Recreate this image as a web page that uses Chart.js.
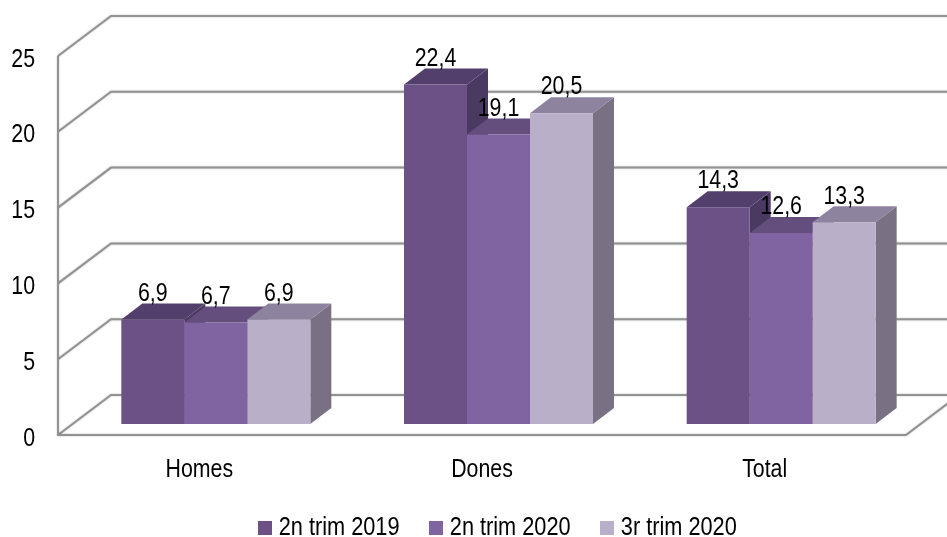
<!DOCTYPE html>
<html>
<head>
<meta charset="utf-8">
<style>
  html, body { margin: 0; padding: 0; background: #fff; overflow: hidden; }
  canvas { display: block; }
</style>
<script src="https://cdn.jsdelivr.net/npm/chart.js@4"></script>
</head>
<body>
<canvas id="chart" width="947" height="537"></canvas>
<script>
  const categories = ['Homes', 'Dones', 'Total'];
  const seriesNames = ['2n trim 2019', '2n trim 2020', '3r trim 2020'];
  const trim2n2019 = [6.9, 22.4, 14.3];
  const trim2n2020 = [6.7, 19.1, 12.6];
  const trim3r2020 = [6.9, 20.5, 13.3];
  const yTicks = [0, 5, 10, 15, 20, 25];

  const frontColors = ['#6b5186', '#8064a2', '#b9afc9'];
  const topColors = ['#533f6c', '#634e7e', '#8e839e'];
  const sideColors = ['#4a3960', '#5a4773', '#7a7084'];

  const FONT = '"Liberation Sans", Arial, sans-serif';
  const TEXT_SQUEEZE = 0.82;               // the original text is condensed
  const WALL = { dx: 53, dy: -40 };        // back wall relative to the front plane
  const BAR_SHIFT = { dx: 16.5, dy: -11 }; // bars stand inside the floor
  const BAR_DEPTH = { dx: 21, dy: -16 };

  // small square drawn as a legend marker, so the gap to the text stays tight
  function swatch(color) {
    const c = document.createElement('canvas');
    c.width = c.height = 14;
    const g = c.getContext('2d');
    g.fillStyle = color;
    g.fillRect(0, 0, 14, 14);
    return c;
  }

  function poly(ctx, color, pts) {
    ctx.fillStyle = color;
    ctx.beginPath();
    pts.forEach((p, i) => i ? ctx.lineTo(p[0], p[1]) : ctx.moveTo(p[0], p[1]));
    ctx.closePath();
    ctx.fill();
  }

  const ctx2d = document.getElementById('chart').getContext('2d');
  const plainFillText = ctx2d.fillText.bind(ctx2d);
  ctx2d.fillText = (text, x, y) => {
    ctx2d.save();
    ctx2d.translate(x, y);
    ctx2d.scale(TEXT_SQUEEZE, 1);
    plainFillText(text, 0, 0);
    ctx2d.restore();
  };

  const box3d = {
    id: 'box3d',
    afterLayout(chart) {
      // legend sits off-centre in the original
      const lg = chart.legend;
      lg.left = 255;
      lg.right = chart.width;
      lg.top = 505.25;
      lg.bottom = chart.height;
    },
    beforeDatasetsDraw(chart) {
      const { ctx, chartArea: a, scales: { y } } = chart;
      ctx.save();
      // walls and floor
      ctx.strokeStyle = '#929292';
      ctx.lineWidth = 2;
      ctx.shadowColor = 'rgba(0,0,0,0.25)';
      ctx.shadowBlur = 2;
      yTicks.forEach(t => {
        const py = y.getPixelForValue(t);
        ctx.beginPath();
        ctx.moveTo(a.left, py);
        ctx.lineTo(a.left + WALL.dx, py + WALL.dy);
        ctx.lineTo(chart.width + 2, py + WALL.dy);
        ctx.stroke();
      });
      ctx.beginPath();
      ctx.moveTo(a.left, y.getPixelForValue(yTicks[yTicks.length - 1]));
      ctx.lineTo(a.left, a.bottom);
      ctx.lineTo(a.right, a.bottom);
      ctx.lineTo(a.right + WALL.dx, a.bottom + WALL.dy);
      ctx.stroke();
      ctx.shadowColor = 'transparent';
      // side and top faces, the front faces come from the bar elements
      ctx.translate(BAR_SHIFT.dx, BAR_SHIFT.dy);
      const d = BAR_DEPTH;
      categories.forEach((_, i) => {
        chart.data.datasets.forEach((ds, k) => {
          const el = chart.getDatasetMeta(k).data[i];
          const l = el.x - el.width / 2, r = el.x + el.width / 2;
          poly(ctx, sideColors[k], [[r, el.y], [r + d.dx, el.y + d.dy], [r + d.dx, el.base + d.dy], [r, el.base]]);
          poly(ctx, topColors[k], [[l, el.y], [l + d.dx, el.y + d.dy], [r + d.dx, el.y + d.dy], [r, el.y]]);
        });
      });
      ctx.restore();
    },
    beforeDatasetDraw(chart) {
      chart.ctx.save();
      chart.ctx.translate(BAR_SHIFT.dx, BAR_SHIFT.dy);
    },
    afterDatasetDraw(chart) {
      chart.ctx.restore();
    },
    afterDatasetsDraw(chart) {
      const { ctx } = chart;
      ctx.save();
      ctx.font = '26px ' + FONT;
      ctx.fillStyle = '#000';
      ctx.textAlign = 'center';
      ctx.textBaseline = 'middle';
      chart.data.datasets.forEach((ds, k) => {
        chart.getDatasetMeta(k).data.forEach((el, i) => {
          const txt = String(ds.data[i]).replace('.', ',');
          ctx.fillText(txt, el.x + BAR_SHIFT.dx, el.y + BAR_SHIFT.dy - 26);
        });
      });
      ctx.restore();
    }
  };

  new Chart(ctx2d, {
    type: 'bar',
    data: {
      labels: categories,
      datasets: [
        { label: seriesNames[0], data: trim2n2019, backgroundColor: frontColors[0] },
        { label: seriesNames[1], data: trim2n2020, backgroundColor: frontColors[1] },
        { label: seriesNames[2], data: trim3r2020, backgroundColor: frontColors[2] }
      ]
    },
    plugins: [box3d],
    options: {
      responsive: false,
      animation: false,
      clip: false,
      categoryPercentage: 0.6686,
      barPercentage: 1,
      layout: { padding: { top: 56, right: 41, left: 0, bottom: 0 } },
      plugins: {
        tooltip: { enabled: false },
        legend: {
          position: 'bottom',
          align: 'start',
          labels: {
            color: '#000',
            font: { family: FONT, size: 26.5 },
            usePointStyle: true,
            boxWidth: 1,
            padding: 9.5,
            generateLabels: () => seriesNames.map((name, i) => ({
              text: name, fontColor: '#000', pointStyle: swatch(frontColors[i]), datasetIndex: i, lineWidth: 0
            }))
          }
        }
      },
      scales: {
        x: {
          afterFit: s => { s.height = 56; },
          grid: { display: false, drawTicks: false },
          border: { display: false },
          ticks: { color: '#000', padding: 19, font: { family: FONT, size: 26 } }
        },
        y: {
          min: 0,
          max: 25,
          afterFit: s => { s.width = 58; },
          grid: { display: false, drawTicks: false },
          border: { display: false },
          afterBuildTicks: s => { s.ticks = yTicks.map(v => ({ value: v })); },
          ticks: { color: '#000', padding: 23, labelOffset: 3.5, font: { family: FONT, size: 26 } }
        }
      }
    }
  });
</script>
</body>
</html>
